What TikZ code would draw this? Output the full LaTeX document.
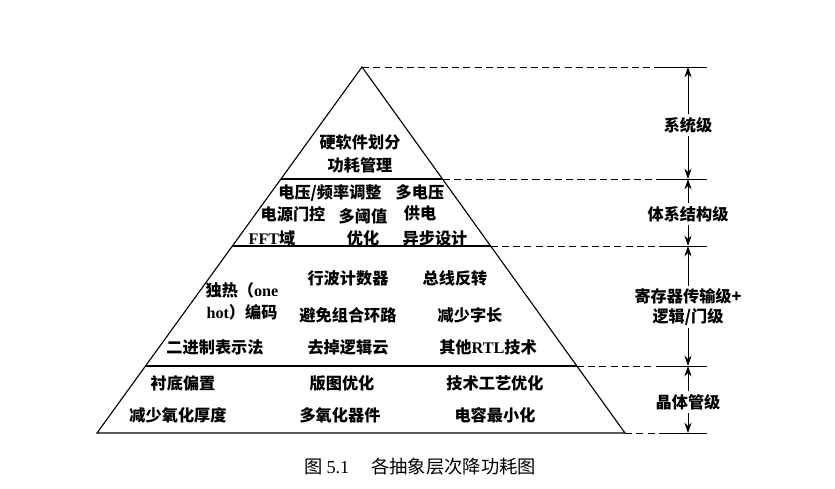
\documentclass[tikz,border=0pt]{standalone}
\usepackage{fontspec}
\setmainfont{Liberation Serif}
\newfontfamily\cjk{Noto Sans CJK SC}
\usetikzlibrary{positioning, arrows.meta, calc}

\begin{document}
\begin{tikzpicture}[x=0.025cm, y=-0.025cm,
    txt/.style={font=\cjk\bfseries\fontsize{11.5}{14}\selectfont, inner sep=1pt},
    lvl/.style={font=\cjk\bfseries\fontsize{11.5}{14}\selectfont, align=center,
                fill=white, inner sep=2pt},
    pyr/.style={line width=0.8pt},
    guide/.style={line width=0.6pt, dash pattern=on 5pt off 3pt},
    tick/.style={line width=0.6pt},
    dimarrow/.style={-{Stealth[length=2.6mm,width=1.8mm]}, line width=0.6pt}]
    \useasboundingbox (0,0) rectangle (835,488);

    % pyramid
    \coordinate (apex) at (362,67);
    \coordinate (bl) at (97,433);
    \coordinate (br) at (625,433);
    \coordinate (l1) at ($(apex)!0.306!(bl)$);
    \coordinate (r1) at ($(apex)!0.306!(br)$);
    \coordinate (l2) at ($(apex)!0.489!(bl)$);
    \coordinate (r2) at ($(apex)!0.489!(br)$);
    \coordinate (l3) at ($(apex)!0.817!(bl)$);
    \coordinate (r3) at ($(apex)!0.817!(br)$);
    \draw[pyr] (bl) -- (apex) -- (br) -- cycle;
    \draw[pyr] (l1) -- (r1);
    \draw[pyr] (l2) -- (r2);
    \draw[pyr] (l3) -- (r3);

    % guides on the right
    \coordinate (tx) at (660,0);
    \coordinate (rx) at (707,0);
    \coordinate (ax) at (688,0);
    \foreach \p in {apex, r1, r2, r3, br} {
        \draw[guide] (\p) -- (\p -| tx);
        \draw[tick] (\p -| tx) -- (\p -| rx);
    }

    % levels
    \node[lvl] (sys)  at (688,125) {系统级};
    \node[lvl] (arch) at (688,214) {体系结构级};
    \node[lvl] (rtl)  at (688,307) {寄存器传输级+\\逻辑/门级};
    \node[lvl] (tran) at (688,402) {晶体管级};
    \draw[dimarrow] (sys) -- (apex -| ax);
    \draw[dimarrow] (sys) -- (r1 -| ax);
    \draw[dimarrow] (arch) -- (r1 -| ax);
    \draw[dimarrow] (arch) -- (r2 -| ax);
    \draw[dimarrow] (rtl) -- (r2 -| ax);
    \draw[dimarrow] (rtl) -- (r3 -| ax);
    \draw[dimarrow] (tran) -- (r3 -| ax);
    \draw[dimarrow] (tran) -- (br -| ax);

    % system level
    \node[txt] (hwsw)  at (360,142) {硬软件划分};
    \node[txt] (pman)  at (360,165) {功耗管理};

    % architecture level
    \node[txt] (dvfs)  at (330,193) {电压/频率调整};
    \node[txt] (mv1)   at (420,192) {多电压};
    \node[txt] (pg)    at (293,214) {电源门控};
    \node[txt] (mt1)   at (363,216) {多阈值};
    \node[txt] (mv2)   at (420,213) {供电};
    \node[txt] (fft)   at (272,238) {{\rmfamily FFT}域};
    \node[txt] (mt2)   at (363,238) {优化};
    \node[txt] (async) at (435,238) {异步设计};

    % RTL / gate level
    \node[txt] (oh1)   at (242,290) {独热（{\rmfamily one}};
    \node[txt] (oh2)   at (242,312) {{\rmfamily hot}）编码};
    \node[txt] (ripple) at (348,278) {行波计数器};
    \node[txt] (businv) at (455,278) {总线反转};
    \node[txt] (loops) at (348,315) {避免组合环路};
    \node[txt] (word)  at (470,315) {减少字长};
    \node[txt] (bin)   at (215,347) {二进制表示法};
    \node[txt] (cloud) at (348,347) {去掉逻辑云};
    \node[txt] (other) at (488,347) {其他{\rmfamily RTL}技术};

    % transistor level
    \node[txt] (bias)  at (183,383) {衬底偏置};
    \node[txt] (layout) at (342,383) {版图优化};
    \node[txt] (proc)  at (495,383) {技术工艺优化};
    \node[txt] (oxide) at (178,415) {减少氧化厚度};
    \node[txt] (multi) at (340,415) {多氧化器件};
    \node[txt] (cap)   at (495,415) {电容最小化};

    % caption
    \node[font=\cjk\fontsize{13}{15}\selectfont] (cap51) at (420,467)
        {图 {\rmfamily 5.1}\hspace{1.2em}各抽象层次降功耗图};
\end{tikzpicture}
\end{document}
